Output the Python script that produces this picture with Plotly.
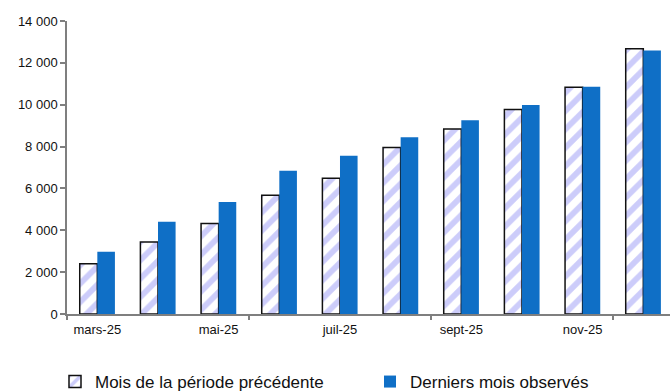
import plotly.graph_objects as go

# Monthly values, mars-25 to déc-25
months = ["mars-25", "avr-25", "mai-25", "juin-25", "juil-25", "août-25",
          "sept-25", "oct-25", "nov-25", "déc-25"]
previous_period = [2400, 3440, 4320, 5670, 6490, 7950, 8840, 9770, 10830, 12670]
latest_observed = [2970, 4410, 5350, 6840, 7560, 8450, 9260, 9990, 10860, 12590]

label_months = ["mars-25", "mai-25", "juil-25", "sept-25", "nov-25"]
y_ticks = [0, 2000, 4000, 6000, 8000, 10000, 12000, 14000]

x_pos = list(range(len(months)))
label_pos = [months.index(m) for m in label_months]

fig = go.Figure()
fig.add_trace(go.Bar(
    x=x_pos, y=previous_period, name="Mois de la période précédente",
    legend="legend",
    marker=dict(
        color="white",
        line=dict(color="#111111", width=1.5),
        pattern=dict(shape="/", fgcolor="#9a9af6", bgcolor="white",
                     size=13, solidity=0.45),
    ),
))
fig.add_trace(go.Bar(
    x=x_pos, y=latest_observed, name="Derniers mois observés",
    legend="legend2",
    marker=dict(color="#0f6fc6", line=dict(width=0)),
))

axis_grey = "#7f7f7f"
x_range = [-0.5, 9.44]
legend_font = dict(size=17, color="#111111",
                   family="Liberation Sans, Arial, sans-serif")
legend_y = 1 - 382 / 391

fig.update_layout(
    width=670, height=391,
    margin=dict(l=67, r=0, t=21, b=77, autoexpand=False),
    paper_bgcolor="white", plot_bgcolor="white",
    barmode="group", bargap=0.42, bargroupgap=0,
    separators=", ",
    font=dict(family="Liberation Sans, Arial, sans-serif", size=13, color="#111111"),
    showlegend=True,
    legend=dict(
        orientation="h", xref="container", yref="container",
        x=55 / 670, y=legend_y, xanchor="left", yanchor="middle",
        font=legend_font, itemwidth=30,
    ),
    legend2=dict(
        orientation="h", xref="container", yref="container",
        x=370 / 670, y=legend_y, xanchor="left", yanchor="middle",
        font=legend_font, itemwidth=30,
    ),
    xaxis=dict(
        range=x_range, tickmode="array", tickvals=label_pos, ticktext=label_months,
        showline=True, linecolor=axis_grey, linewidth=1.5,
        ticks="", showgrid=False, zeroline=False, ticklabelstandoff=3,
    ),
    xaxis2=dict(
        overlaying="x", anchor="y", side="bottom", range=x_range,
        tickmode="array", tickvals=[-0.5, 2.5, 5.5, 8.5],
        ticks="outside", ticklen=5, tickwidth=1.5, tickcolor=axis_grey,
        showticklabels=False, showgrid=False, zeroline=False, showline=False,
    ),
    yaxis=dict(
        range=[0, 14000], tickmode="array", tickvals=y_ticks,
        tickformat=",d", separatethousands=True,
        showline=True, linecolor=axis_grey, linewidth=1.5,
        ticks="outside", ticklen=5, tickwidth=1.5, tickcolor=axis_grey,
        showgrid=False, zeroline=False,
    ),
)
# empty carrier so the boundary tick axis is drawn
fig.add_trace(go.Scatter(x=[None], y=[None], xaxis="x2", yaxis="y",
                         showlegend=False, hoverinfo="skip"))

fig.write_html("out.html")
